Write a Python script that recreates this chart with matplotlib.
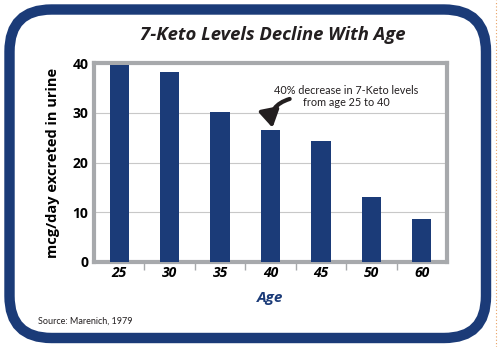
import matplotlib.pyplot as plt
from matplotlib.patches import FancyBboxPatch

ages = ['25', '30', '35', '40', '45', '50', '60']
levels = [39.7, 38.2, 30.2, 26.5, 24.3, 13.0, 8.7]
yticks = [0, 10, 20, 30, 40]

navy = '#1b3b78'
gray = '#a7a9ac'

plt.rcParams['font.family'] = ['Open Sans', 'DejaVu Sans']

fig = plt.figure(figsize=(5.0, 3.47), dpi=100)

# rounded frame on a background axes
bg = fig.add_axes([0, 0, 1, 1], zorder=-1)
bg.set_xlim(0, 500)
bg.set_ylim(0, 347)
bg.axis('off')
frame = FancyBboxPatch((9.5, 9), 476.5, 328.5,
                       boxstyle='round,pad=0,rounding_size=42',
                       facecolor='white', edgecolor=navy, linewidth=7.5)
bg.add_patch(frame)
bg.plot([496, 496], [0, 347], color='#e8a060', lw=0.8, ls=(0, (1, 2)))

ax = fig.add_axes([0.188, 0.245, 0.706, 0.573])
x = range(len(ages))
ax.bar(x, levels, width=0.38, color=navy, zorder=3)
ax.set_xlim(-0.5, len(ages) - 0.5)
ax.set_ylim(0, 40)
ax.set_yticks(yticks)
ax.set_yticklabels([str(v) for v in yticks], fontweight='bold', fontsize=10)
ax.set_xticks(list(x))
ax.set_xticklabels(ages, fontweight='bold', fontstyle='italic', fontsize=10)
ax.tick_params(axis='y', length=0, pad=4)
ax.tick_params(axis='x', length=0, pad=3)
# small separators between categories
ax.set_xticks([i + 0.5 for i in range(len(ages) - 1)], minor=True)
ax.tick_params(axis='x', which='minor', length=6, color=gray, width=1, direction='out')
ax.grid(axis='y', color='#c8c8c8', lw=0.8, zorder=0)
for s in ax.spines.values():
    s.set_color(gray)
    s.set_linewidth(3)
ax.set_ylabel('mcg/day excreted in urine', fontweight='bold', fontsize=10.5, labelpad=9)
ax.set_xlabel('Age', fontweight='bold', fontstyle='italic', fontsize=11, color=navy, labelpad=8)

fig.text(0.545, 0.898, '7-Keto Levels Decline With Age', ha='center', va='center',
         fontsize=13.3, fontweight='bold', fontstyle='italic', color='#231f20')

ax.annotate('', xy=(3.04, 27.0), xytext=(3.38, 32.8),
            arrowprops=dict(arrowstyle='-|>,head_width=0.6,head_length=1.0',
                            mutation_scale=10, shrinkA=0, shrinkB=0,
                            connectionstyle='arc3,rad=0.45', color='#231f20', lw=3))
ax.text(4.5, 33.3, '40% decrease in 7-Keto levels\nfrom age 25 to 40', ha='center', va='center',
        fontsize=7.8, color='#231f20', linespacing=1.15, family=['Lato', 'DejaVu Sans'])

fig.text(0.076, 0.068, 'Source: Marenich, 1979', fontsize=6.5, color='#231f20',
         family=['Lato', 'DejaVu Sans'])

fig.savefig('out.png', dpi=100)
